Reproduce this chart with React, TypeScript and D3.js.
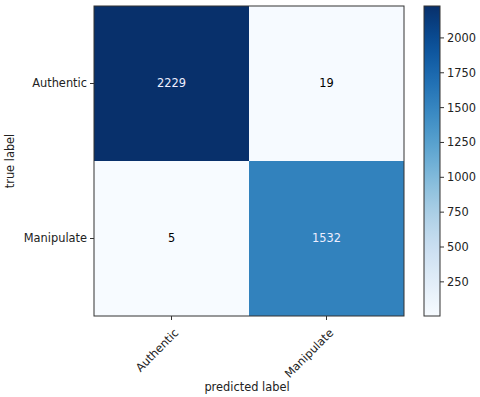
import React from 'react'
import * as d3 from 'd3'

const width = 480
const height = 397

const classes = ['Authentic', 'Manipulate']
const matrix = [
    [2229, 19],
    [5, 1532],
]
const cbarTicks = [250, 500, 750, 1000, 1250, 1500, 1750, 2000]

const plot = { left: 94, top: 6, size: 310 }
const cbar = { left: 424, width: 16 }
const font = 'DejaVu Sans, sans-serif'
const fontSize = 11.4

const App = () => {
    const all = matrix.flat()
    const vmin = d3.min(all) as number
    const vmax = d3.max(all) as number
    const color = d3.scaleSequential(d3.interpolateBlues).domain([vmin, vmax])
    const band = d3
        .scaleBand()
        .domain(classes)
        .range([0, plot.size])
    const cy = d3
        .scaleLinear()
        .domain([vmin, vmax])
        .range([plot.top + plot.size, plot.top])
    const thresh = vmax / 2

    const stops = d3.range(0, 1.0001, 0.05)

    return (
        <svg width={width} height={height} style={{ position: 'absolute', left: 0, top: 0 }}>
            <rect width={width} height={height} fill="#fff" />
            <defs>
                <linearGradient id="cb" x1="0" y1="1" x2="0" y2="0">
                    {stops.map((t) => (
                        <stop key={t} offset={t} stopColor={d3.interpolateBlues(t)} />
                    ))}
                </linearGradient>
            </defs>
            <g transform={`translate(${plot.left}, ${plot.top})`}>
                {matrix.map((row, i) =>
                    row.map((v, j) => (
                        <g key={`${i}-${j}`}>
                            <rect
                                x={band(classes[j])}
                                y={band(classes[i])}
                                width={band.bandwidth()}
                                height={band.bandwidth()}
                                fill={color(v)}
                            />
                            <text
                                x={(band(classes[j]) as number) + band.bandwidth() / 2}
                                y={(band(classes[i]) as number) + band.bandwidth() / 2}
                                dy="0.35em"
                                textAnchor="middle"
                                fontFamily={font}
                                fontSize={fontSize}
                                fill={v > thresh ? '#eef' : '#000'}
                            >
                                {v}
                            </text>
                        </g>
                    ))
                )}
                <rect width={plot.size} height={plot.size} fill="none" stroke="#333" strokeWidth={1} />
                {classes.map((c) => {
                    const p = (band(c) as number) + band.bandwidth() / 2
                    return (
                        <g key={c}>
                            <line x1={-4} x2={0} y1={p} y2={p} stroke="#333" />
                            <text
                                x={-7}
                                y={p}
                                dy="0.35em"
                                textAnchor="end"
                                fontFamily={font}
                                fontSize={fontSize}
                                fill="#222"
                            >
                                {c}
                            </text>
                            <line x1={p} x2={p} y1={plot.size} y2={plot.size + 4} stroke="#333" />
                            <text
                                transform={`translate(${p + 2}, ${plot.size + 12}) rotate(-45)`}
                                textAnchor="end"
                                dy="0.7em"
                                fontFamily={font}
                                fontSize={fontSize}
                                fill="#222"
                            >
                                {c}
                            </text>
                        </g>
                    )
                })}
            </g>
            <text
                x={247}
                y={391}
                textAnchor="middle"
                fontFamily={font}
                fontSize={fontSize}
                fill="#222"
            >
                predicted label
            </text>
            <text
                transform={`translate(14, ${plot.top + plot.size / 2}) rotate(-90)`}
                textAnchor="middle"
                fontFamily={font}
                fontSize={fontSize}
                fill="#222"
            >
                true label
            </text>
            <rect
                x={cbar.left}
                y={plot.top}
                width={cbar.width}
                height={plot.size}
                fill="url(#cb)"
                stroke="#333"
            />
            {cbarTicks.map((t) => (
                <g key={t}>
                    <line
                        x1={cbar.left + cbar.width}
                        x2={cbar.left + cbar.width + 4}
                        y1={cy(t)}
                        y2={cy(t)}
                        stroke="#333"
                    />
                    <text
                        x={cbar.left + cbar.width + 7}
                        y={cy(t)}
                        dy="0.35em"
                        fontFamily={font}
                        fontSize={fontSize}
                        fill="#222"
                    >
                        {t}
                    </text>
                </g>
            ))}
        </svg>
    )
}

export default App
